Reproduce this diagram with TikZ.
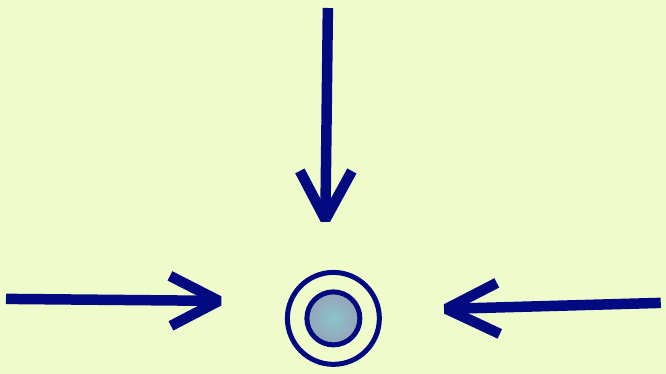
\documentclass[tikz,border=0pt]{standalone}
\usetikzlibrary{calc}
\definecolor{BackClr}{RGB}{240,251,204}
\definecolor{ArrowClr}{RGB}{2,10,130}
\definecolor{CoreIn}{RGB}{138,196,202}
\definecolor{CoreOut}{RGB}{150,162,184}

\begin{document}
\begin{tikzpicture}[x=1pt,y=-1pt,
  arrowline/.style={line width=10.5pt,color=ArrowClr,line cap=butt},
  arrowhead/.style={arrowline,line join=bevel},
  ring/.style={line width=5pt,draw=ArrowClr}]

\fill[BackClr] (0,0) rectangle (666,374);

% target
\coordinate (O) at (333.5,318.5);
\draw[ring] (O) circle (46);
\shade[inner color=CoreIn,outer color=CoreOut] (O) circle (27);
\draw[ring] (O) circle (26.5);

% arrow from the left
\coordinate (L0) at (6,299);
\coordinate (L1) at (219,301);
\coordinate (La) at (170,276);
\coordinate (Lb) at (171,326);
% arrow from above
\coordinate (T0) at (328,8);
\coordinate (T1) at (325.5,219.5);
\coordinate (Ta) at (300,171);
\coordinate (Tb) at (352,171);
% arrow from the right
\coordinate (R0) at (661,303);
\coordinate (R1) at (446.5,309);
\coordinate (Ra) at (497,283);
\coordinate (Rb) at (500,334);

\draw[arrowline] (L0) -- (L1);
\draw[arrowhead] (La) -- (L1) -- (Lb);

\draw[arrowline] (T0) -- (T1);
\draw[arrowhead] (Ta) -- (T1) -- (Tb);

\draw[arrowline] (R0) -- (R1);
\draw[arrowhead] (Ra) -- (R1) -- (Rb);

\end{tikzpicture}
\end{document}
